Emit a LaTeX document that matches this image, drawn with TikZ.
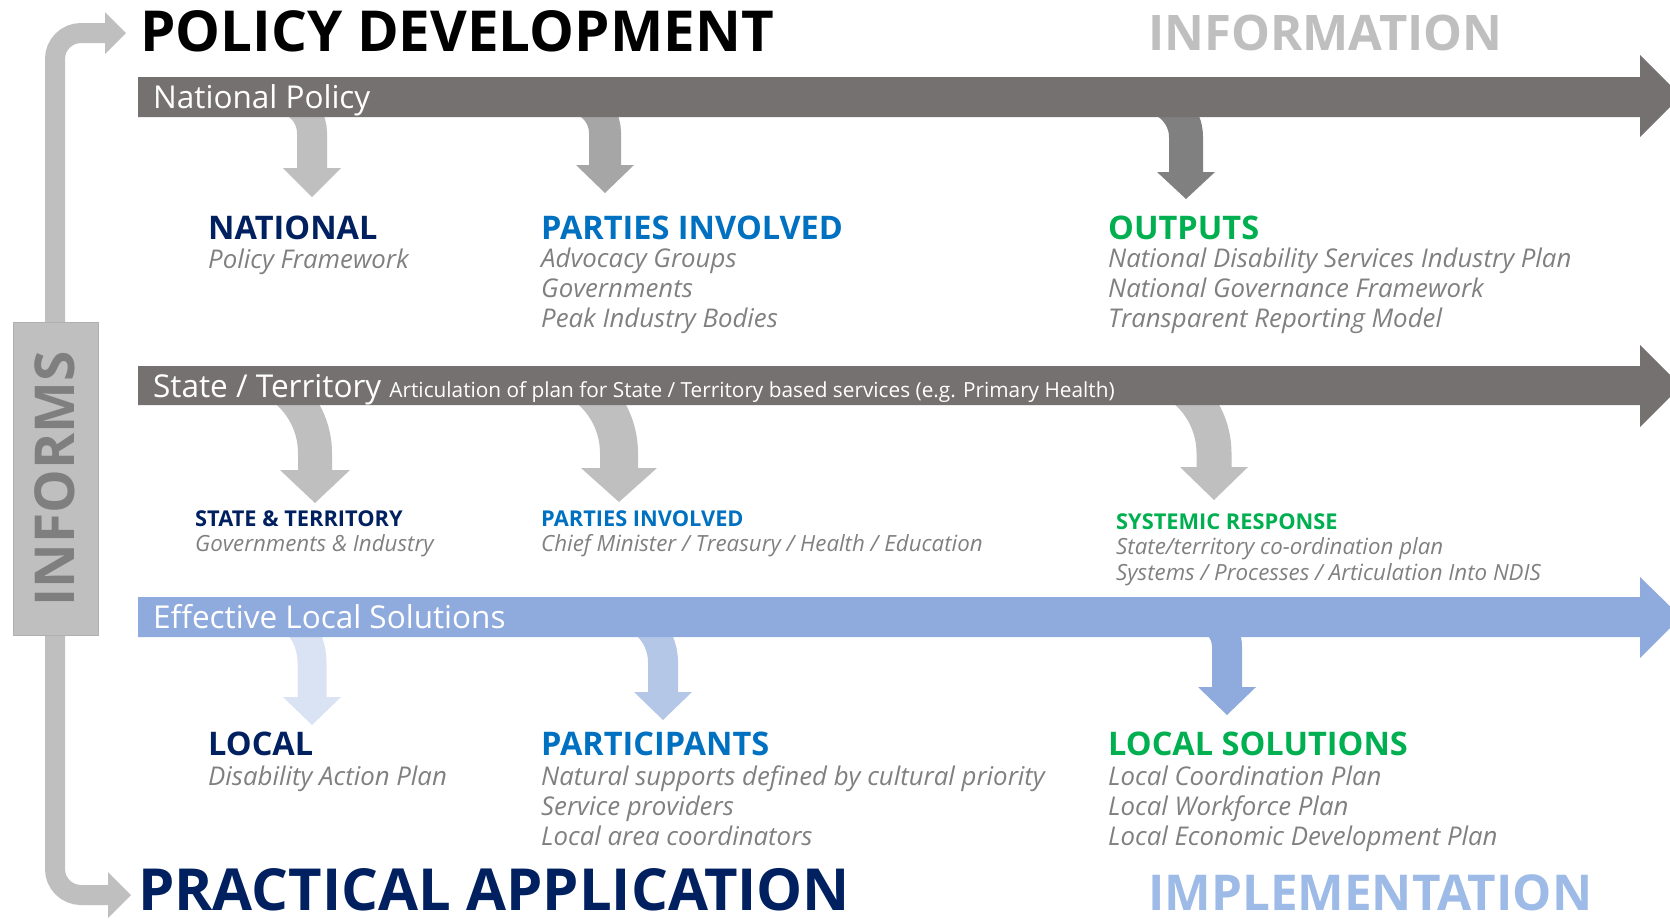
\documentclass[tikz,border=0pt]{standalone}
\usepackage{fontspec}
\setmainfont{Open Sans}
\definecolor{bargray}{HTML}{767171}
\definecolor{barblue}{HTML}{8FAADC}
\definecolor{lgray}{HTML}{BFBFBF}
\definecolor{mgray}{HTML}{A6A6A6}
\definecolor{dgray}{HTML}{808080}
\definecolor{subgray}{HTML}{808080}
\definecolor{navy}{HTML}{002060}
\definecolor{mblue}{HTML}{0070C0}
\definecolor{mgreen}{HTML}{00B050}
\definecolor{lblue1}{HTML}{DAE3F3}
\definecolor{lblue2}{HTML}{B4C7E7}
\definecolor{implblue}{HTML}{9DBBE6}
\definecolor{informtxt}{HTML}{7F7F7F}
% shaft: color, cx, width, y where curve starts, head top y, centre radius, angle
\newcommand{\shaft}[7]{%
  \draw[#1, line width=#3pt] (#2,{#5+1}) -- (#2,#4) arc[start angle=0, end angle=-#7, radius=#6];}
% head: color, cx, head top y, half width, tip y
\newcommand{\ahead}[5]{%
  \fill[#1] ({#2-#4},#3) -- ({#2+#4},#3) -- (#2,#5) -- cycle;}
\begin{document}
\begin{tikzpicture}[x=1pt,y=-1pt,
  txt/.style={anchor=base west, inner sep=0pt},
  bigtitle/.style={txt, font=\bfseries\fontsize{58}{58}\selectfont},
  bartext/.style={txt, text=white, font=\fontsize{31.5}{31.5}\selectfont},
  head/.style={txt, font=\bfseries\fontsize{32.5}{32.5}\selectfont},
  smallhead/.style={txt, font=\bfseries\fontsize{21.8}{21.8}\selectfont},
  sub/.style={txt, text=subgray, font=\itshape\fontsize{25.8}{25.8}\selectfont},
  smallsub/.style={txt, text=subgray, font=\itshape\fontsize{22.3}{22.3}\selectfont}]
\useasboundingbox (0,0) rectangle (1670,922);

% INFORMS loop connector
\coordinate (topend) at (106,33);
\coordinate (botend) at (109,895);
\draw[lgray, line width=20pt, rounded corners=26pt] (topend) -- (55,33) -- (55,895) -- (botend);
\fill[lgray] (105,12) -- (126,33) -- (105,54) -- cycle;
\fill[lgray] (108,872) -- (131,895) -- (108,918) -- cycle;
\node[draw={rgb,255:red,176;green,176;blue,176}, fill=lgray, minimum width=85pt, minimum height=313pt, inner sep=0pt, anchor=north west] (informs) at (13,322) {};
\node[rotate=90, text=informtxt, font=\bfseries\fontsize{55}{55}\selectfont, inner sep=0pt] (informstxt) at (55,479) {INFORMS};

% titles
\node[txt, text=black, font=\bfseries\fontsize{56.5}{56.5}\selectfont] (t1) at (140,51) {POLICY DEVELOPMENT};
\node[txt, text=lgray, font=\bfseries\fontsize{49}{49}\selectfont] (t2) at (1148,50) {INFORMATION};
\node[bigtitle, text=navy] (t3) at (138,910) {PRACTICAL APPLICATION};
\node[txt, text=implblue, font=\bfseries\fontsize{49.4}{49.4}\selectfont] (t4) at (1148,910) {IMPLEMENTATION};

% row 1 arrows (bar bottom 117)
\shaft{lgray}{312}{30}{133}{168}{35}{64}
\ahead{lgray}{312}{168}{29}{197}
\shaft{mgray}{605}{32}{133}{165}{36}{64}
\ahead{mgray}{605}{165}{29}{193}
\shaft{dgray}{1186}{34}{137}{172}{41}{66}
\ahead{dgray}{1186}{172}{29}{199}
% row 2 arrows (bar bottom 405)
\shaft{lgray}{315}{34}{453}{470}{82}{51}
\ahead{lgray}{315}{470}{35}{503}
\shaft{lgray}{619}{38}{453}{468}{84}{51}
\ahead{lgray}{619}{468}{38}{502}
\shaft{lgray}{1214}{35}{453}{467}{82.5}{51}
\ahead{lgray}{1214}{467}{34}{500}
% row 3 arrows (bar bottom 637)
\shaft{lblue1}{312}{29}{662}{697}{57.5}{39}
\ahead{lblue1}{312}{697}{29}{725}
\shaft{lblue2}{663}{30}{662}{692}{51}{48}
\ahead{lblue2}{663}{692}{29}{720}
\shaft{barblue}{1227}{30}{647}{687}{33}{42}
\ahead{barblue}{1227}{687}{29}{715}

% bars
\fill[bargray] (138,77) -- (1640,77) -- (1640,55) -- (1681,96) -- (1640,137) -- (1640,117) -- (138,117) -- cycle;
\fill[bargray] (138,366) -- (1640,366) -- (1640,345) -- (1681,386) -- (1640,427) -- (1640,405) -- (138,405) -- cycle;
\fill[barblue] (138,597) -- (1640,597) -- (1640,577) -- (1681,617) -- (1640,658) -- (1640,637) -- (138,637) -- cycle;

\node[bartext] (b1) at (153,108) {National Policy};
\node[bartext] (b2) at (153,397) {State / Territory \fontsize{20.8}{20.8}\selectfont Articulation of plan for State / Territory based services (e.g. Primary Health)};
\node[bartext] (b3) at (153,628) {Effective Local Solutions};

% row 1
\node[head, text=navy] (h11) at (208,239) {NATIONAL};
\node[sub] (s111) at (208,268) {Policy Framework};
\node[head, text=mblue] (h12) at (541,239) {PARTIES INVOLVED};
\node[sub] (s121) at (541,267) {Advocacy Groups};
\node[sub] (s122) at (541,297) {Governments};
\node[sub] (s123) at (541,327) {Peak Industry Bodies};
\node[head, text=mgreen] (h13) at (1108,239) {OUTPUTS};
\node[sub] (s131) at (1108,267) {National Disability Services Industry Plan};
\node[sub] (s132) at (1108,297) {National Governance Framework};
\node[sub] (s133) at (1108,327) {Transparent Reporting Model};

% row 2
\node[smallhead, text=navy] (h21) at (195,526) {STATE \& TERRITORY};
\node[smallsub] (s211) at (195,551) {Governments \& Industry};
\node[smallhead, text=mblue] (h22) at (541,526) {PARTIES INVOLVED};
\node[smallsub] (s221) at (541,551) {Chief Minister / Treasury / Health / Education};
\node[smallhead, text=mgreen] (h23) at (1116,529) {SYSTEMIC RESPONSE};
\node[smallsub] (s231) at (1116,554) {State/territory co-ordination plan};
\node[smallsub] (s232) at (1116,580) {Systems / Processes / Articulation Into NDIS};

% row 3
\node[head, text=navy] (h31) at (208,755) {LOCAL};
\node[sub] (s311) at (208,785) {Disability Action Plan};
\node[head, text=mblue] (h32) at (541,755) {PARTICIPANTS};
\node[sub] (s321) at (541,785) {Natural supports defined by cultural priority};
\node[sub] (s322) at (541,815) {Service providers};
\node[sub] (s323) at (541,845) {Local area coordinators};
\node[head, text=mgreen] (h33) at (1108,755) {LOCAL SOLUTIONS};
\node[sub] (s331) at (1108,785) {Local Coordination Plan};
\node[sub] (s332) at (1108,815) {Local Workforce Plan};
\node[sub] (s333) at (1108,845) {Local Economic Development Plan};
\end{tikzpicture}
\end{document}
